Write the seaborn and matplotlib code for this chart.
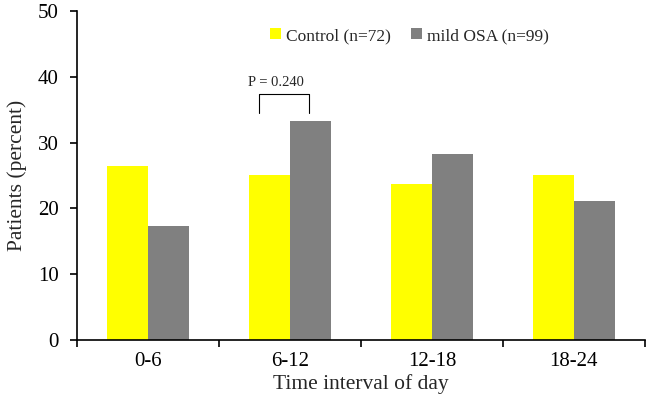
import pandas as pd
import matplotlib
matplotlib.use("Agg")
import matplotlib.pyplot as plt
import seaborn as sns

# data
intervals = ["0-6", "6-12", "12-18", "18-24"]
control = [26.4, 25.0, 23.7, 25.0]
mild_osa = [17.3, 33.3, 28.3, 21.1]
groups = ["Control (n=72)", "mild OSA (n=99)"]
colors = ["#FFFF00", "#808080"]

df = pd.DataFrame({
    "interval": intervals * 2,
    "group": [groups[0]] * 4 + [groups[1]] * 4,
    "percent": control + mild_osa,
})

sns.set_style("white")
plt.rcParams["font.family"] = ["Liberation Serif", "DejaVu Serif"]

fig = plt.figure(figsize=(6.5, 4.09), dpi=100)
ax = fig.add_axes([0.1185, 0.169, 0.8735, 0.804])

sns.barplot(data=df, x="interval", y="percent", hue="group", order=intervals,
            hue_order=groups, palette=colors, width=0.58, saturation=1,
            edgecolor="none", linewidth=0, ax=ax)

ax.set_xlim(-0.5, 3.5)
ax.set_ylim(0, 50)
ax.set_yticks(range(0, 51, 10))
ax.set_xticks(range(4))
ax.set_xticks([-0.5, 0.5, 1.5, 2.5, 3.5], minor=True)
ax.tick_params(axis="x", which="major", bottom=True, length=0, labelsize=15, pad=9)
ax.tick_params(axis="x", which="minor", bottom=True, length=5, width=1.2,
               direction="out", color="black")
ax.tick_params(axis="y", left=True, length=5, width=1.2, direction="out",
               color="black", labelsize=15, pad=8)
ax.tick_params(axis="both", labelcolor="black")

for side in ["top", "right"]:
    ax.spines[side].set_visible(False)
for side in ["left", "bottom"]:
    ax.spines[side].set_color("black")
    ax.spines[side].set_linewidth(1.2)

ax.set_xlabel("Time interval of day", fontsize=15.5, labelpad=2)
ax.set_ylabel("Patients (percent)", fontsize=15.5, labelpad=8)

# significance bracket over 6-12
ax.plot([0.78, 0.78, 1.134, 1.134], [34.5, 37.4, 37.4, 34.5], color="black", lw=0.8)
ax.text(0.90, 38.2, "P = 0.240", ha="center", va="bottom", fontsize=10.5)

handles, labels = ax.get_legend_handles_labels()
ax.legend(handles, labels, loc="center", bbox_to_anchor=(0.63, 0.912),
          bbox_transform=fig.transFigure, ncol=2, frameon=False, fontsize=12.5,
          handlelength=0.6, handleheight=0.6, handletextpad=0.3, columnspacing=1.2)

fig.savefig("out.png", dpi=100)
